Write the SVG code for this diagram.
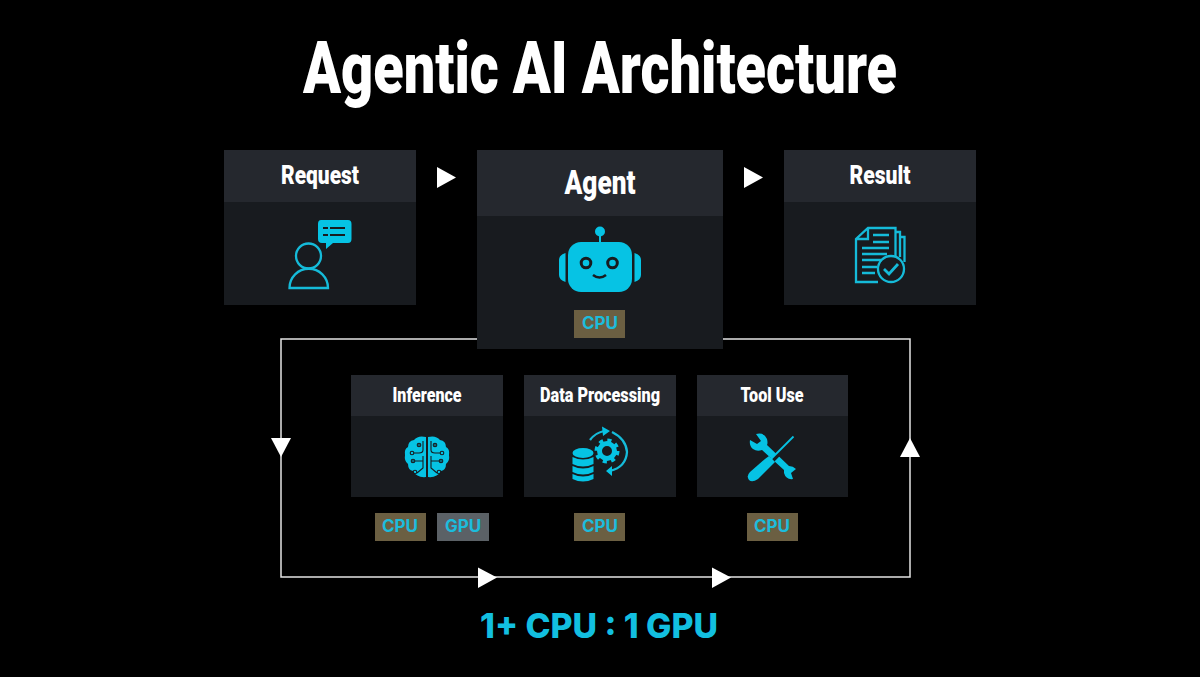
<svg xmlns="http://www.w3.org/2000/svg" width="1200" height="677" viewBox="0 0 1200 677">
<defs>
<style>
text{font-family:"Roboto","Liberation Sans",sans-serif;font-weight:900;text-anchor:middle}
.hd{fill:#25282e}.bd{fill:#181b1f}
.t{fill:#fff}
.c{fill:#1cbcdc;font-size:17px;font-weight:700;font-family:"Inter","Liberation Sans",sans-serif}
.cpu{fill:#6b5f42}.gpu{fill:#5b6166}
.ic{fill:#06c3e4}.st{fill:none;stroke:#15bbd9;stroke-width:2.3}
.cut{fill:none;stroke:#181b1f}
.ln{fill:none;stroke:#e4e4e4;stroke-width:1.5}
.ar{fill:#fff}
</style>
</defs>
<rect width="1200" height="677" fill="#000"/>
<text class="t" x="600" y="93" font-size="72" textLength="594" lengthAdjust="spacingAndGlyphs">Agentic AI Architecture</text>
<g id="connectors">
<path class="ln" d="M477 339H281V577H910V339H723"/>
<path class="ar" d="M437 167L456 177.500L437 188Z"/>
<path class="ar" d="M744 167L763 177.500L744 188Z"/>
<path class="ar" d="M271 438H291L281 457Z"/>
<path class="ar" d="M900 457H920L910 438Z"/>
<path class="ar" d="M478 567.500L497 577.500L478 588Z"/>
<path class="ar" d="M712 567.500L731 577.500L712 588Z"/>
</g>
<g id="request">
<rect class="bd" x="224" y="150" width="192" height="155"/><rect class="hd" x="224" y="150" width="192" height="52"/>
<text class="t" x="320" y="184" font-size="26" textLength="78" lengthAdjust="spacingAndGlyphs">Request</text>
<circle class="st" cx="308.500" cy="256" r="12.500"/>
<path class="st" d="M289.500 288A19 19 0 0 1 328 288Z"/>
<path class="ic" d="M321 220H348Q351.500 220 351.500 224V239Q351.500 243 348 243H333L326 249V243H322Q318 243 318 239V224Q318 220 321 220Z"/>
<path class="cut" stroke-width="2" d="M323 228H328M330 228H345M323 235H328M330 235H345"/>
</g>
<g id="agent">
<rect class="bd" x="477" y="150" width="246" height="199"/><rect class="hd" x="477" y="150" width="246" height="66"/>
<text class="t" x="600" y="194" font-size="33" textLength="71" lengthAdjust="spacingAndGlyphs">Agent</text>
<circle class="ic" cx="600" cy="231.500" r="5"/><rect class="ic" x="599" y="234" width="2" height="9"/>
<rect class="ic" x="568" y="242" width="64" height="50" rx="13"/>
<path class="ic" d="M565.500 253V282Q559 280 559 275V260Q559 255 565.500 253ZM634.500 253V282Q641 280 641 275V260Q641 255 634.500 253Z"/>
<circle class="cut" cx="586" cy="263" r="4.800" stroke-width="3"/>
<circle class="cut" cx="612.500" cy="263" r="4.800" stroke-width="3"/>
<path class="cut" d="M593 275Q599.500 280 606 275" stroke-width="2.600"/>
<rect class="cpu" x="574" y="310" width="51" height="28"/>
<text class="c" x="600" y="329">CPU</text>
</g>
<g id="result">
<rect class="bd" x="784" y="150" width="192" height="155"/><rect class="hd" x="784" y="150" width="192" height="52"/>
<text class="t" x="880" y="184" font-size="26" textLength="61" lengthAdjust="spacingAndGlyphs">Result</text>
<path class="st" d="M878 282H856V239L868 228H895.500V256M868 228V239H856M895.500 232H900V257M900 237H904.500V262"/>
<path class="st" d="M873 235H889M873 242H889M862 248H889M862 254H887M862 260H882M862 267H877M862 273H875"/>
<circle class="st" cx="891" cy="269" r="13"/>
<path d="M884 269L889 274L898 264" fill="none" stroke="#15bbd9" stroke-width="2.800"/>
</g>
<g id="inference">
<rect class="bd" x="351" y="375" width="152" height="122"/><rect class="hd" x="351" y="375" width="152" height="41"/>
<text class="t" x="427" y="402" font-size="20" textLength="69" lengthAdjust="spacingAndGlyphs">Inference</text>
<path class="ic" d="M426 437Q418 435 414 440Q408 441 408 447Q404 449 405 455Q404 461 408 464Q408 470 413 471Q417 478 426 477ZM428 437Q436 435 440 440Q446 441 446 447Q450 449 449 455Q450 461 446 464Q446 470 441 471Q437 478 428 477Z"/>
<g class="cut" stroke-width="1.100">
<path d="M423 441V450Q423 453 419 453H414M423 456V468L417 473M423 461H415M419 443V447M413 460V463"/>
<path d="M431 441V450Q431 453 435 453H440M431 456V468L437 473M431 461H439M435 443V447M441 460V463"/>
<circle cx="419" cy="445" r="1.800"/><circle cx="412" cy="453" r="1.800"/><circle cx="413" cy="461" r="1.800"/><circle cx="415" cy="472" r="1.800"/>
<circle cx="435" cy="445" r="1.800"/><circle cx="442" cy="453" r="1.800"/><circle cx="441" cy="461" r="1.800"/><circle cx="439" cy="472" r="1.800"/>
</g>
</g>
<g id="data-processing">
<rect class="bd" x="524" y="375" width="152" height="122"/><rect class="hd" x="524" y="375" width="152" height="41"/>
<text class="t" x="600" y="402" font-size="20" textLength="120" lengthAdjust="spacingAndGlyphs">Data Processing</text>
<ellipse class="ic" cx="583" cy="453" rx="10.500" ry="5"/>
<path class="ic" d="M572.500 457Q583 462 593.500 457V464Q583 469 572.500 464ZM572.500 466Q583 471 593.500 466V472Q583 477 572.500 472ZM572.500 474Q583 479 593.500 474V479Q583 484 572.500 479Z"/>
<circle cx="607" cy="451" r="7.500" fill="none" stroke="#06c3e4" stroke-width="5"/>
<circle cx="607" cy="451" r="10.500" fill="none" stroke="#06c3e4" stroke-width="4" stroke-dasharray="4 4.250"/>
<path class="st" d="M590 440Q595 433 604 431M612 432Q626 439 627 452Q626 467 610 471"/>
<path class="ic" d="M602 426.500L610 431L603 436ZM606 471L612 466L612 476Z"/>
</g>
<g id="tool-use">
<rect class="bd" x="697" y="375" width="151" height="122"/><rect class="hd" x="697" y="375" width="151" height="41"/>
<text class="t" x="772" y="402" font-size="20" textLength="63" lengthAdjust="spacingAndGlyphs">Tool Use</text>
<path class="ic" d="M750 440L757 444L761 441L756 434Q764 432 767 439Q768 443 767 445L789 466Q793 466 796 469L791 473L793 479Q786 480 784 473L784 470L762 450Q757 452 753 449Q749 446 750 440Z"/>
<path d="M795 435L793 440L773 460" fill="none" stroke="#181b1f" stroke-width="4"/>
<path d="M793.500 436.500L768 462" fill="none" stroke="#06c3e4" stroke-width="1.800"/>
<path class="ic" d="M769 456L775 462L758 479Q752 483 749 480Q746 476 750 472L765 459Z"/>
</g>
<g id="badges">
<rect class="cpu" x="375" y="513" width="51" height="28"/><text class="c" x="400" y="532">CPU</text>
<rect class="gpu" x="437" y="513" width="52" height="28"/><text class="c" x="463" y="532">GPU</text>
<rect class="cpu" x="574" y="513" width="51" height="28"/><text class="c" x="600" y="532">CPU</text>
<rect class="cpu" x="747" y="513" width="51" height="28"/><text class="c" x="772" y="532">CPU</text>
</g>
<text x="599" y="638" font-size="34" fill="#12bfe0" style="font-family:'Inter','Liberation Sans',sans-serif;font-weight:800" textLength="238" lengthAdjust="spacingAndGlyphs">1+ CPU : 1 GPU</text>
</svg>
